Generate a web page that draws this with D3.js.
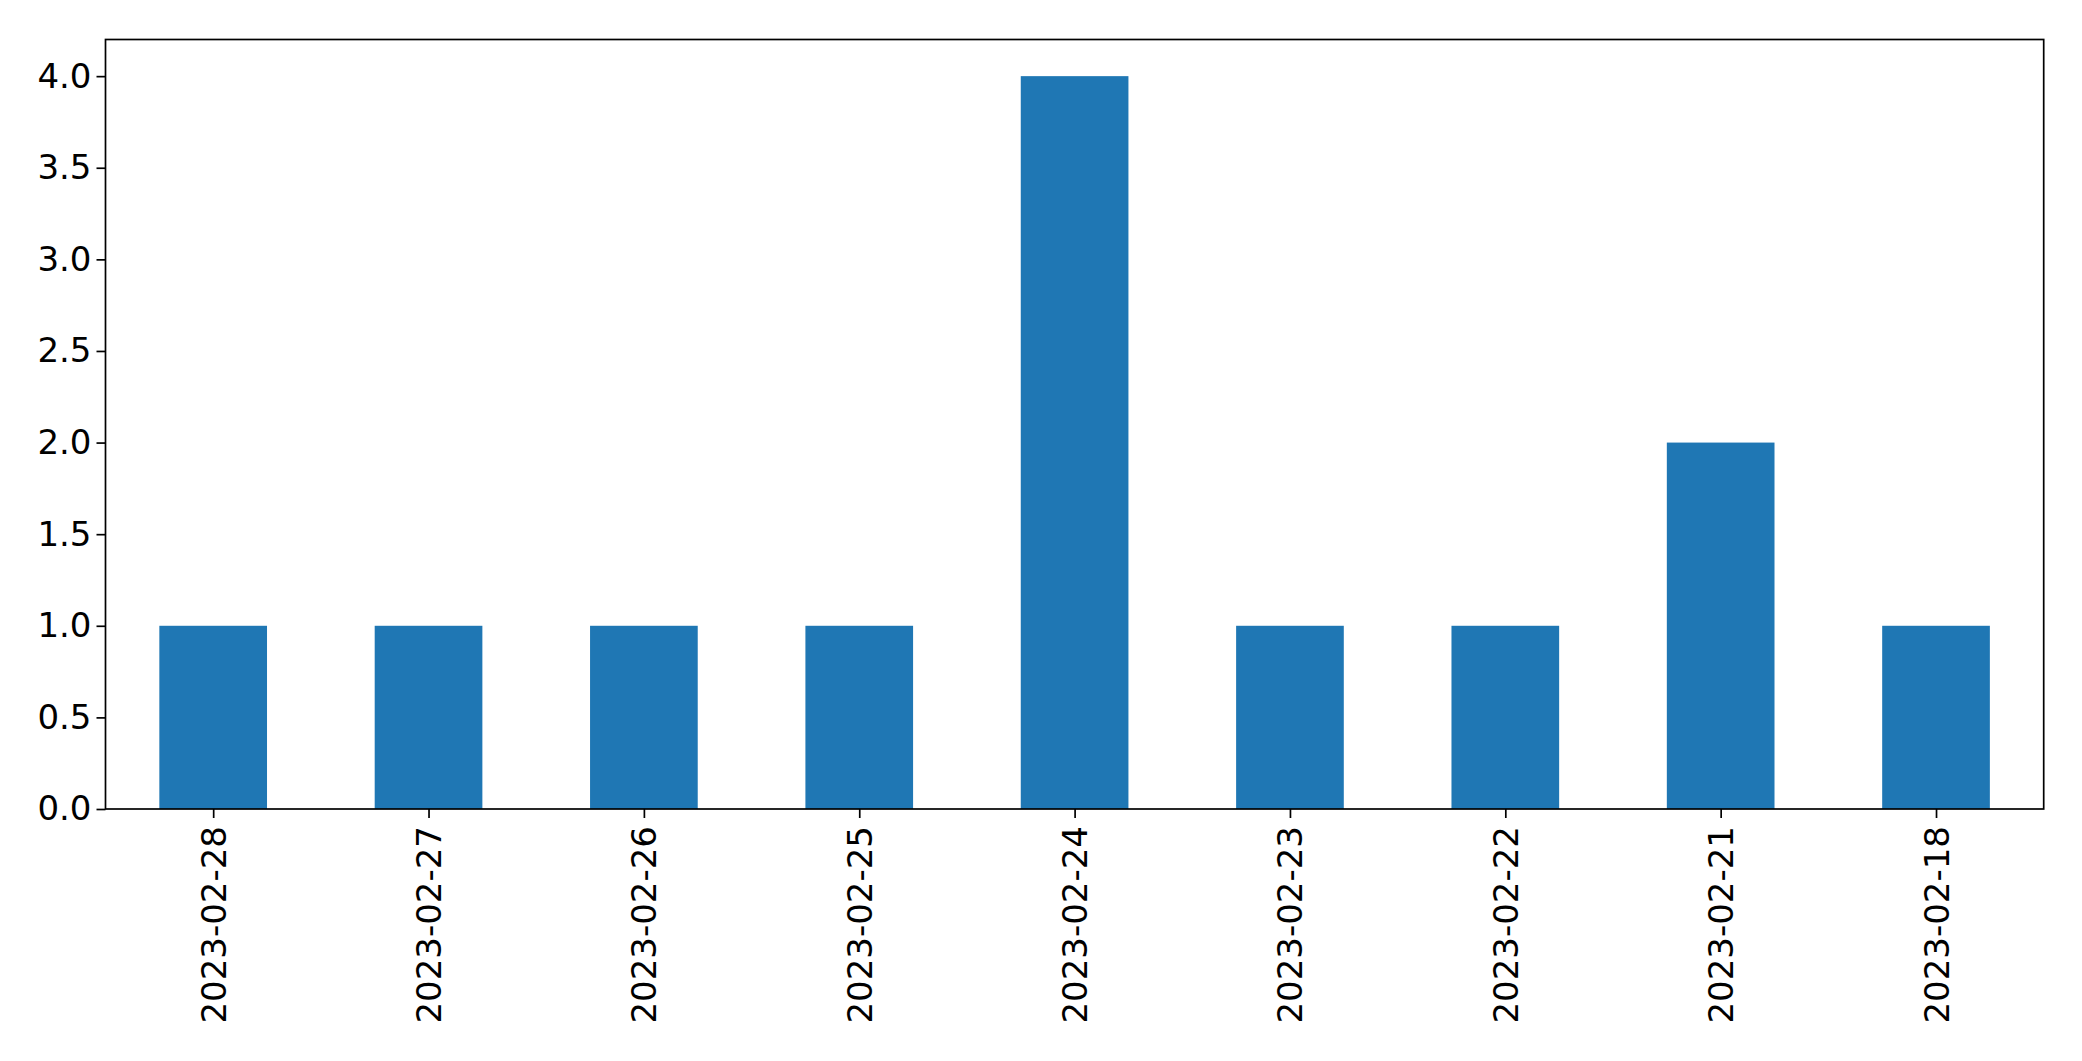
<!DOCTYPE html>
<html><head><meta charset="utf-8">
<script src="https://cdn.jsdelivr.net/npm/d3@7"></script>
<style>html,body{margin:0;padding:0;background:#fff;}svg{display:block;}</style>
</head><body>
<svg id="c" width="2082" height="1061"></svg>
<script>
const categories = ["2023-02-28","2023-02-27","2023-02-26","2023-02-25","2023-02-24","2023-02-23","2023-02-22","2023-02-21","2023-02-18"];
const values = [1,1,1,1,4,1,1,2,1];
const yTicks = [0,0.5,1,1.5,2,2.5,3,3.5,4];

const svg = d3.select("#c");
const L = 105.5, T = 39.5, R = 2043.7, B = 809;
const x = d3.scaleLinear().domain([-0.5, categories.length - 0.5]).range([L, R]);
const y = d3.scaleLinear().domain([0, 4.2]).range([B, T]);
const font = "DejaVu Sans";
const fs = 34;

// bars
svg.append("g").selectAll("rect").data(values).join("rect")
  .attr("x", (d,i) => x(i - 0.25))
  .attr("width", (d,i) => x(i + 0.25) - x(i - 0.25))
  .attr("y", d => y(d))
  .attr("height", d => y(0) - y(d))
  .attr("fill", "#1f77b4");

// y axis
const ya = svg.append("g").attr("transform", `translate(${L},0)`)
  .call(d3.axisLeft(y).tickValues(yTicks).tickFormat(d3.format(".1f")).tickSize(9).tickPadding(5));
ya.select(".domain").remove();
ya.selectAll("line").attr("stroke", "#000").attr("stroke-width", 1.7);
ya.selectAll("text").attr("font-family", font).attr("font-size", fs).attr("fill", "#000");

// x axis
const xa = svg.append("g").attr("transform", `translate(0,${B})`)
  .call(d3.axisBottom(x).tickValues(d3.range(categories.length)).tickFormat(i => categories[i]).tickSize(9));
xa.select(".domain").remove();
xa.selectAll("line").attr("stroke", "#000").attr("stroke-width", 1.7);
xa.selectAll("text")
  .attr("font-family", font).attr("font-size", fs).attr("fill", "#000")
  .attr("text-anchor", "end")
  .attr("dy", null).attr("y", 0)
  .attr("dominant-baseline", "central")
  .attr("transform", "translate(0,17) rotate(-90)");

// frame
svg.append("rect").attr("x", L).attr("y", T).attr("width", R - L).attr("height", B - T)
  .attr("fill", "none").attr("stroke", "#000").attr("stroke-width", 1.7);
</script>
</body></html>
